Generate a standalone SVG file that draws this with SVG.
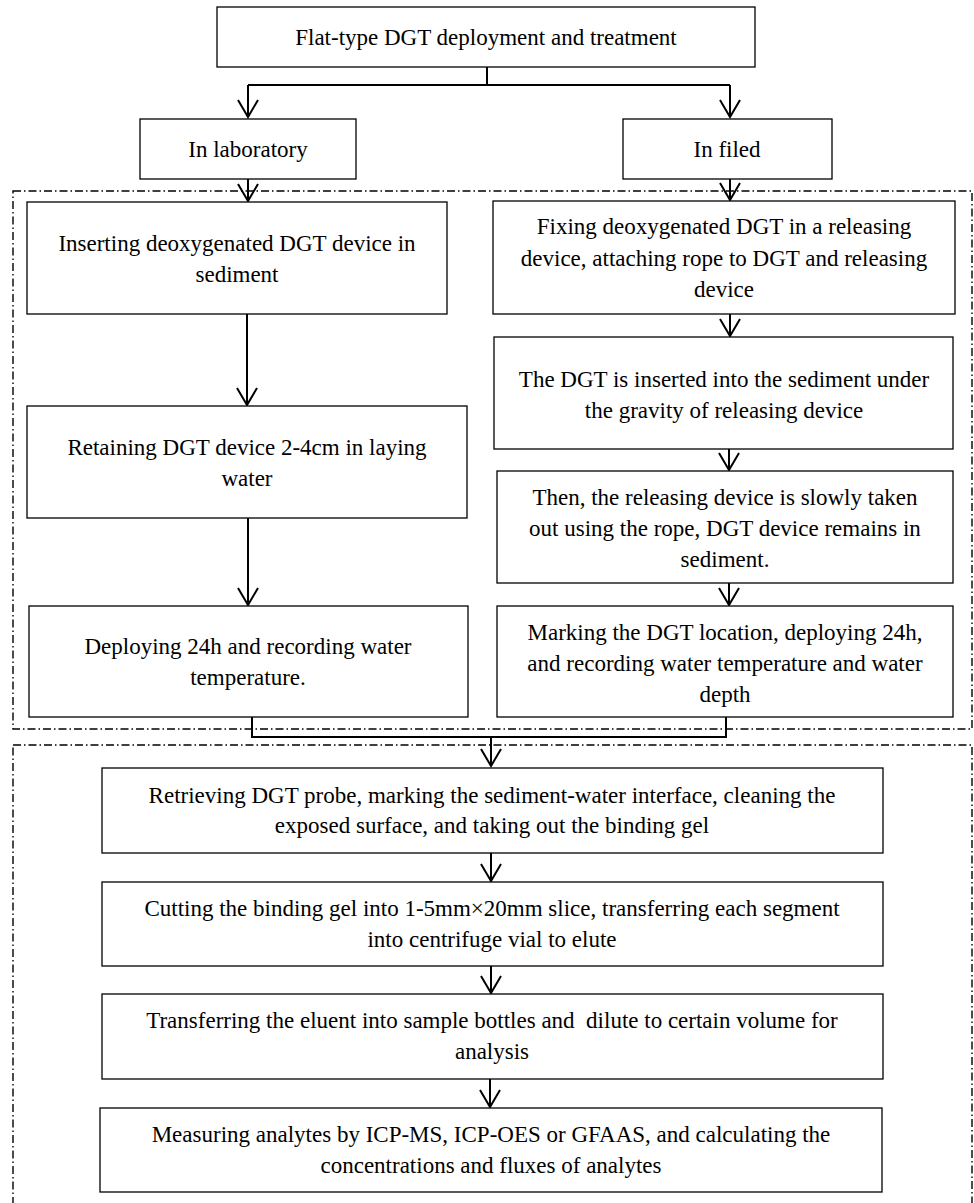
<svg xmlns="http://www.w3.org/2000/svg" width="974" height="1203" viewBox="0 0 974 1203">
<style>
.box{fill:#fff;stroke:#000;stroke-width:1.3}
.frame{fill:none;stroke:#000;stroke-width:1.4;stroke-dasharray:8 3 1.5 3}
.ln{fill:none;stroke:#000;stroke-width:2}
text{font-family:"Liberation Serif","Times New Roman",serif;font-size:23px;fill:#000;text-anchor:middle;white-space:pre}
</style>
<defs>
<marker id="arr" markerUnits="userSpaceOnUse" orient="auto" refX="0" refY="0" markerWidth="30" markerHeight="30" style="overflow:visible">
<path d="M-17,-10 L0,0 L-17,10" fill="none" stroke="#000" stroke-width="2"/>
</marker>
</defs>
<rect width="974" height="1203" fill="#fff"/>
<g id="frames">
<rect class="frame" x="13" y="191" width="959" height="538"/>
<rect class="frame" x="13" y="745" width="959" height="480"/>
</g>
<g id="connectors">
<polyline class="ln" points="487,67 487,85"/>
<polyline class="ln" points="248,85 730,85"/>
<line class="ln" x1="248" y1="85" x2="248" y2="117" marker-end="url(#arr)"/>
<line class="ln" x1="730" y1="85" x2="730" y2="117" marker-end="url(#arr)"/>
<line class="ln" x1="248" y1="179" x2="248" y2="201" marker-end="url(#arr)"/>
<line class="ln" x1="730" y1="179" x2="730" y2="200" marker-end="url(#arr)"/>
<line class="ln" x1="247" y1="314" x2="247" y2="405" marker-end="url(#arr)"/>
<line class="ln" x1="248" y1="518" x2="248" y2="605" marker-end="url(#arr)"/>
<line class="ln" x1="730" y1="314" x2="730" y2="336" marker-end="url(#arr)"/>
<line class="ln" x1="729" y1="449" x2="729" y2="470" marker-end="url(#arr)"/>
<line class="ln" x1="729" y1="583" x2="729" y2="605" marker-end="url(#arr)"/>
<polyline class="ln" points="252,717 252,737 726,737 726,717"/>
<line class="ln" x1="491" y1="737" x2="491" y2="766" marker-end="url(#arr)"/>
<line class="ln" x1="491" y1="853" x2="491" y2="881" marker-end="url(#arr)"/>
<line class="ln" x1="491" y1="966" x2="491" y2="993" marker-end="url(#arr)"/>
<line class="ln" x1="490" y1="1079" x2="490" y2="1107" marker-end="url(#arr)"/>
</g>
<g id="n-title">
<rect class="box" x="217" y="7" width="538" height="60"/>
<text x="486" y="45">Flat-type DGT deployment and treatment</text>
</g>
<g id="n-lab">
<rect class="box" x="140" y="119" width="216" height="60"/>
<text x="248" y="157">In laboratory</text>
</g>
<g id="n-filed">
<rect class="box" x="623" y="119" width="209" height="60"/>
<text x="727" y="157">In filed</text>
</g>
<g id="n-l1">
<rect class="box" x="27" y="202" width="420" height="112"/>
<text x="237" y="251">Inserting deoxygenated DGT device in</text>
<text x="237" y="282">sediment</text>
</g>
<g id="n-l2">
<rect class="box" x="27" y="406" width="440" height="112"/>
<text x="247" y="455">Retaining DGT device 2-4cm in laying</text>
<text x="247" y="486">water</text>
</g>
<g id="n-l3">
<rect class="box" x="29" y="606" width="439" height="111"/>
<text x="248" y="654">Deploying 24h and recording water</text>
<text x="248" y="685">temperature.</text>
</g>
<g id="n-r1">
<rect class="box" x="493" y="201" width="462" height="113"/>
<text x="724" y="234">Fixing deoxygenated DGT in a releasing</text>
<text x="724" y="266">device, attaching rope to DGT and releasing</text>
<text x="724" y="297">device</text>
</g>
<g id="n-r2">
<rect class="box" x="494" y="337" width="459" height="112"/>
<text x="724" y="387">The DGT is inserted into the sediment under</text>
<text x="724" y="418">the gravity of releasing device</text>
</g>
<g id="n-r3">
<rect class="box" x="497" y="471" width="456" height="112"/>
<text x="725" y="505">Then, the releasing device is slowly taken</text>
<text x="725" y="536">out using the rope, DGT device remains in</text>
<text x="725" y="567">sediment.</text>
</g>
<g id="n-r4">
<rect class="box" x="497" y="606" width="456" height="111"/>
<text x="725" y="640">Marking the DGT location, deploying 24h,</text>
<text x="725" y="671">and recording water temperature and water</text>
<text x="725" y="702">depth</text>
</g>
<g id="n-b1">
<rect class="box" x="102" y="768" width="781" height="85"/>
<text x="492" y="803">Retrieving DGT probe, marking the sediment-water interface, cleaning the</text>
<text x="492" y="833">exposed surface, and taking out the binding gel</text>
</g>
<g id="n-b2">
<rect class="box" x="102" y="882" width="781" height="84"/>
<text x="492" y="916">Cutting the binding gel into 1-5mm×20mm slice, transferring each segment</text>
<text x="492" y="947">into centrifuge vial to elute</text>
</g>
<g id="n-b3">
<rect class="box" x="102" y="994" width="781" height="85"/>
<text x="492" y="1028">Transferring the eluent into sample bottles and  dilute to certain volume for</text>
<text x="492" y="1059">analysis</text>
</g>
<g id="n-b4">
<rect class="box" x="100" y="1108" width="782" height="84"/>
<text x="491" y="1142">Measuring analytes by ICP-MS, ICP-OES or GFAAS, and calculating the</text>
<text x="491" y="1173">concentrations and fluxes of analytes</text>
</g>
</svg>
